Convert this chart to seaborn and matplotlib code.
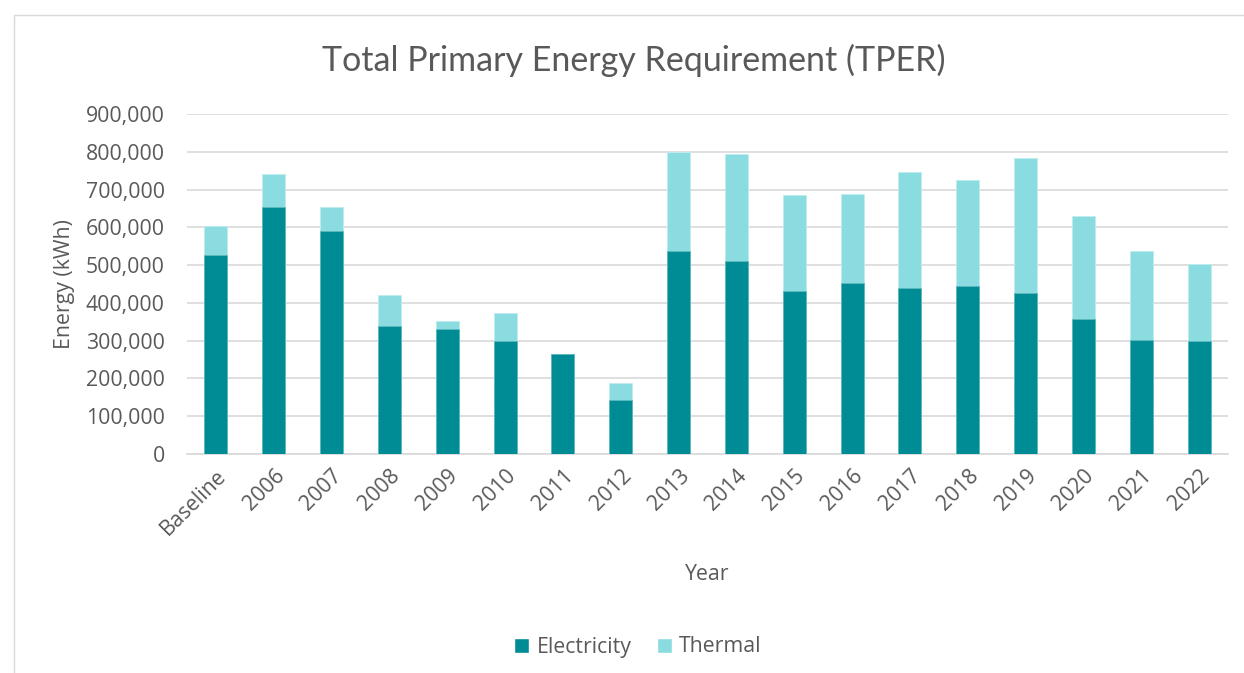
import numpy as np
import pandas as pd
import matplotlib
matplotlib.use("Agg")
import matplotlib.pyplot as plt
import seaborn as sns
from matplotlib.patches import Rectangle, Patch
from matplotlib.ticker import FuncFormatter, MultipleLocator

categories = ["Baseline", "2006", "2007", "2008", "2009", "2010", "2011", "2012", "2013",
              "2014", "2015", "2016", "2017", "2018", "2019", "2020", "2021", "2022"]
electricity = [528000, 654000, 590000, 340000, 331000, 299000, 265000, 142000, 537000,
               511000, 432000, 453000, 440000, 446000, 425000, 358000, 301000, 300000]
total = [604000, 740000, 653000, 421000, 352000, 372000, 265000, 189000, 800000,
         795000, 685000, 688000, 747000, 725000, 784000, 631000, 537000, 504000]
thermal = [t - e for t, e in zip(total, electricity)]

df = pd.DataFrame({"Year": categories, "Electricity": electricity, "Thermal": thermal})
df["Total"] = df["Electricity"] + df["Thermal"]

sns.set_theme(style="white")
plt.rcParams['font.family'] = ['Open Sans', 'DejaVu Sans']

C_ELEC = "#008C95"
C_THER = "#8ADCE0"
TXT = "#595959"

fig = plt.figure(figsize=(12.44, 6.73), dpi=100)
fig.patches.append(Rectangle((14/1244, -0.1), 1.2, 1 - 15/673 + 0.1, transform=fig.transFigure,
                             fill=False, edgecolor="#D9D9D9", linewidth=1.0))
ax = fig.add_axes([187/1244, 1 - 454/673, (1228-187)/1244, (454-114)/673])

sns.barplot(data=df, x="Year", y="Total", color=C_THER, width=0.4, ax=ax,
            saturation=1, edgecolor="#BFEDEF", linewidth=0.6, zorder=3)
sns.barplot(data=df, x="Year", y="Electricity", color=C_ELEC, width=0.4, ax=ax,
            saturation=1, edgecolor="#5FB8BD", linewidth=0.6, zorder=4)

ax.set_ylim(0, 900000)
ax.set_xlim(-0.5, len(categories) - 0.5)
ax.yaxis.set_major_locator(MultipleLocator(100000))
ax.yaxis.set_major_formatter(FuncFormatter(lambda v, p: f"{int(v):,}"))
ax.grid(axis="y", color="#D9D9D9", linewidth=1.2, zorder=0)
ax.set_axisbelow(True)
for s in ["top", "right", "left"]:
    ax.spines[s].set_visible(False)
ax.spines["bottom"].set_color("#D9D9D9")
ax.spines["bottom"].set_linewidth(1.2)
ax.tick_params(axis="both", length=0, colors=TXT, labelsize=15.3)
ax.tick_params(axis="y", pad=16)
ax.tick_params(axis="x", pad=8)
plt.setp(ax.get_xticklabels(), rotation=45, ha="right", rotation_mode="anchor")

ax.set_xlabel("Year", fontsize=15.3, color=TXT, labelpad=18)
ax.set_ylabel("Energy (kWh)", fontsize=15.3, color=TXT, labelpad=8)
fig.text(634/1244, 1 - 60/673, "Total Primary Energy Requirement (TPER)", ha="center",
         va="center", fontsize=24.5, color=TXT, family=["Lato", "DejaVu Sans"])

handles = [Patch(facecolor=C_ELEC, label="Electricity"), Patch(facecolor=C_THER, label="Thermal")]
fig.legend(handles=handles, loc="center", bbox_to_anchor=(638/1244, 1 - 647/673), ncol=2,
           frameon=False, fontsize=15.3, labelcolor=TXT, handlelength=0.7, handleheight=0.7,
           columnspacing=1.2, handletextpad=0.35)

fig.savefig("out.png", dpi=100, facecolor="white")
